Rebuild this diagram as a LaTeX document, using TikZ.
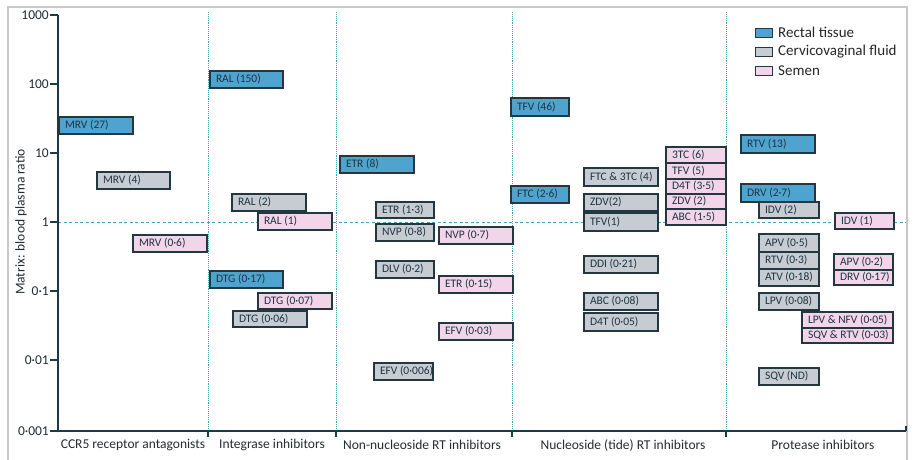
\documentclass[tikz,border=0pt]{standalone}
\usepackage{fontspec}
\setmainfont{Carlito}
\definecolor{rectal}{RGB}{78,164,206}
\definecolor{cervico}{RGB}{198,204,209}
\definecolor{semen}{RGB}{243,213,233}
\definecolor{boxline}{RGB}{35,55,65}
\definecolor{boxtext}{RGB}{30,52,68}
\definecolor{axisc}{RGB}{25,60,70}
\definecolor{guide}{RGB}{70,160,190}
\definecolor{labtext}{RGB}{35,45,52}
\definecolor{framec}{RGB}{200,200,200}
\tikzset{
  drugbox/.style={draw=boxline, line width=1.1pt, anchor=north west, inner xsep=6pt, inner ysep=0pt,
    outer sep=0pt, text=boxtext, font=\fontsize{11.5}{12}\selectfont},
  rt/.style={drugbox, fill=rectal},
  cv/.style={drugbox, fill=cervico},
  sm/.style={drugbox, fill=semen},
  guideline/.style={guide, line width=0.9pt, densely dotted},
  oneline/.style={guide, line width=0.9pt, dash pattern=on 3pt off 2.5pt},
  axisline/.style={axisc, line width=1.1pt},
  ticklab/.style={anchor=east, text=labtext, font=\fontsize{13.5}{14}\selectfont, inner sep=1pt},
  catlab/.style={text=labtext, font=\fontsize{13.5}{14}\selectfont, inner sep=0pt},
  legbox/.style={draw=boxline, line width=1.1pt, minimum width=17pt, minimum height=9pt, inner sep=0pt, anchor=north west},
  legtext/.style={anchor=west, text=black!85, font=\fontsize{15}{16}\selectfont, inner sep=0pt},
}
\newcommand{\dbox}[7]{%
  \pgfmathsetmacro{\bw}{#5-#3-12}%
  \pgfmathsetmacro{\bh}{#6-#4}%
  \node[#2, minimum height=\bh pt] (#1) at (#3,#4) {\makebox[\bw pt][l]{#7}};}
\begin{document}
\begin{tikzpicture}[x=1pt,y=-1pt]
\fill[white] (0,0) rectangle (914,459);
\useasboundingbox (0,0) rectangle (914,459);
% frame
\draw[framec, line width=1.5pt] (8,462) -- (8,7) -- (907,7) -- (907,462);
% guides
\foreach \gx in {208,336,512,726} {\draw[guideline] (\gx,12) -- (\gx,431);}
\draw[oneline] (58,222) -- (906,222);
% axes
\coordinate (o) at (58,431);
\coordinate (ytop) at (58,15);
\coordinate (xend) at (906,431);
\draw[axisline] (ytop) -- (o) -- (xend);
\foreach \yy/\lab in {15/1000,84/100,153/10,222/1,291/0·1,360/0·01,431/0·001} {
  \draw[axisline] (50,\yy) -- (58,\yy);
  \node[ticklab] at (50,\yy) {\lab};
}
\foreach \gx in {208,336,512,726} {\draw[axisline] (\gx,431) -- (\gx,437);}
\draw[axisline] (906,426) -- (906,431);
\node[catlab, rotate=90] (ylab) at (21,222) {Matrix: blood plasma ratio};
\node[catlab] (c1) at (133,445) {CCR5 receptor antagonists};
\node[catlab] (c2) at (272,445) {Integrase inhibitors};
\node[catlab] (c3) at (422,445) {Non-nucleoside RT inhibitors};
\node[catlab] (c4) at (623,445) {Nucleoside (tide) RT inhibitors};
\node[catlab] (c5) at (823,445) {Protease inhibitors};
% legend
\node[legbox, fill=rectal] (l1) at (755,28) {};
\node[legbox, fill=cervico] (l2) at (755,47) {};
\node[legbox, fill=semen] (l3) at (755,66) {};
\node[legtext] at (778,32.5) {Rectal tissue};
\node[legtext] at (778,51.5) {Cervicovaginal fluid};
\node[legtext] at (778,70.5) {Semen};
% rectal tissue
\dbox{r1}{rt}{59}{117}{133}{134}{MRV (27)}
\dbox{r2}{rt}{210}{71}{283}{88}{RAL (150)}
\dbox{r3}{rt}{210}{271}{283}{288}{DTG (0·17)}
\dbox{r4}{rt}{340}{156}{414}{173}{ETR (8)}
\dbox{r5}{rt}{511}{98}{569}{116}{TFV (46)}
\dbox{r6}{rt}{511}{186}{569}{203}{FTC (2·6)}
\dbox{r7}{rt}{741}{135}{815}{153}{RTV (13)}
\dbox{r8}{rt}{741}{184}{815}{202}{DRV (2·7)}
% cervicovaginal fluid
\dbox{g1}{cv}{97}{172}{170}{189}{MRV (4)}
\dbox{g2}{cv}{232}{194}{306}{211}{RAL (2)}
\dbox{g3}{cv}{233}{311}{307}{327}{DTG (0·06)}
\dbox{g4}{cv}{376}{202}{434}{218}{ETR (1·3)}
\dbox{g5}{cv}{376}{224}{434}{241}{NVP (0·8)}
\dbox{g6}{cv}{376}{261}{434}{278}{DLV (0·2)}
\dbox{g7}{cv}{374}{363}{433}{380}{EFV (0·006)}
\dbox{g8}{cv}{584}{168}{658}{186}{FTC \& 3TC (4)}
\dbox{g9}{cv}{584}{194}{658}{211}{ZDV(2)}
\dbox{g10}{cv}{584}{213}{658}{231}{TFV(1)}
\dbox{g11}{cv}{584}{256}{658}{273}{DDI (0·21)}
\dbox{g12}{cv}{584}{293}{658}{310}{ABC (0·08)}
\dbox{g13}{cv}{584}{313}{658}{331}{D4T (0·05)}
\dbox{g14}{cv}{759}{202}{819}{218}{IDV (2)}
\dbox{g15}{cv}{759}{234}{819}{252}{APV (0·5)}
\dbox{g16}{cv}{759}{252}{819}{269}{RTV (0·3)}
\dbox{g17}{cv}{759}{269}{819}{286}{ATV (0·18)}
\dbox{g18}{cv}{759}{293}{819}{310}{LPV (0·08)}
\dbox{g19}{cv}{759}{368}{819}{385}{SQV (ND)}
% semen
\dbox{s1}{sm}{133}{235}{207}{252}{MRV (0·6)}
\dbox{s2}{sm}{258}{213}{332}{230}{RAL (1)}
\dbox{s3}{sm}{258}{293}{332}{309}{DTG (0·07)}
\dbox{s4}{sm}{439}{227}{513}{244}{NVP (0·7)}
\dbox{s5}{sm}{439}{276}{513}{293}{ETR (0·15)}
\dbox{s6}{sm}{439}{323}{513}{340}{EFV (0·03)}
\dbox{s7}{sm}{666}{147}{726}{163}{3TC (6)}
\dbox{s8}{sm}{666}{163}{726}{179}{TFV (5)}
\dbox{s9}{sm}{666}{179}{726}{194}{D4T (3·5)}
\dbox{s10}{sm}{666}{194}{726}{209}{ZDV (2)}
\dbox{s11}{sm}{666}{209}{726}{225}{ABC (1·5)}
\dbox{s12}{sm}{835}{213}{894}{229}{IDV (1)}
\dbox{s13}{sm}{834}{254}{893}{270}{APV (0·2)}
\dbox{s14}{sm}{834}{270}{893}{285}{DRV (0·17)}
\dbox{s15}{sm}{802}{312}{893}{328}{LPV \& NFV (0·05)}
\dbox{s16}{sm}{802}{328}{893}{343}{SQV \& RTV (0·03)}
\end{tikzpicture}
\end{document}
